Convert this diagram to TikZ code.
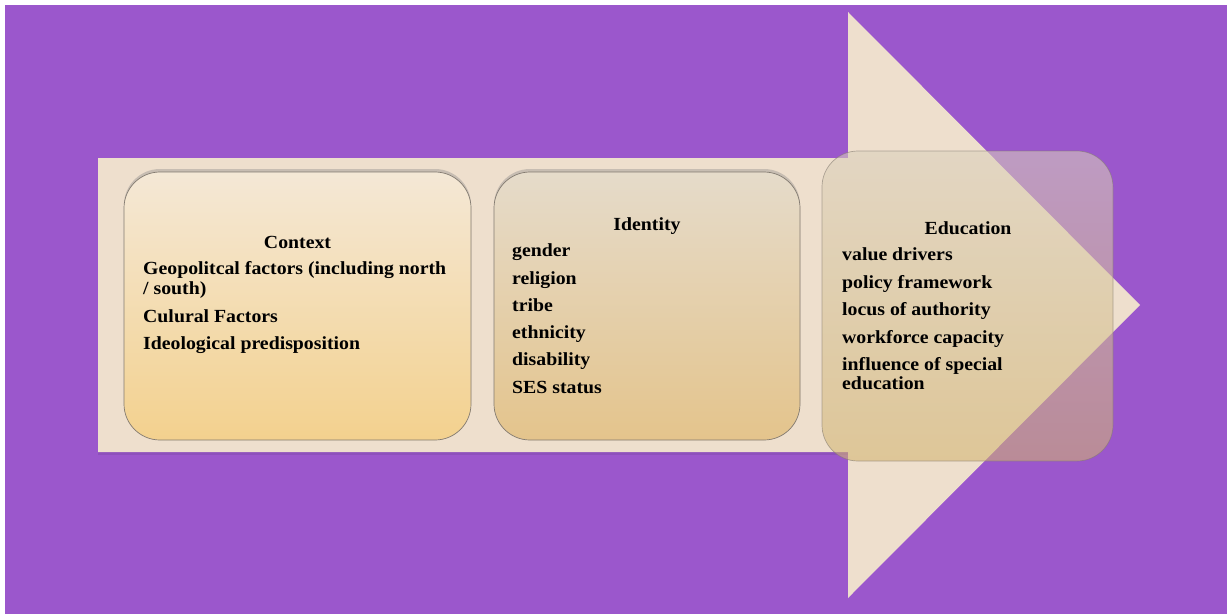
\documentclass[tikz,border=0pt]{standalone}
\usepackage{fontspec}
\setmainfont[BoldFeatures={FakeStretch=1.07}]{Liberation Serif}
\usetikzlibrary{shadows}
\definecolor{bgpurple}{RGB}{155,87,204}
\definecolor{arrowbeige}{RGB}{238,223,205}
\definecolor{aTop}{RGB}{244,232,214}
\definecolor{aBot}{RGB}{243,209,142}
\definecolor{bTop}{RGB}{229,219,202}
\definecolor{bBot}{RGB}{228,196,140}
\definecolor{cTop}{RGB}{218,208,188}
\definecolor{cBot}{RGB}{210,180,112}
\definecolor{edgegray}{RGB}{130,122,112}
\tikzset{
  box/.style={draw=edgegray, line width=0.7pt, rounded corners=36pt, inner sep=0pt},
  shadowed/.style={drop shadow={shadow xshift=0pt, shadow yshift=3pt, opacity=0.35}},
  txt/.style={font=\bfseries\fontsize{18.5}{20}\selectfont, inner sep=0pt, text=black},
  item/.style={txt, anchor=base west},
  head/.style={txt, anchor=base},
}
\begin{document}
\begin{tikzpicture}[x=1pt,y=-1pt]
\useasboundingbox (0,0) rectangle (1227,614);
\fill[white] (0,0) rectangle (1227,614);
\fill[bgpurple] (5,5) rectangle (1227,614);
% arrow
\fill[black, opacity=0.08] (98,452) rectangle (848,455);
\fill[arrowbeige] (98,158) -- (848,158) -- (848,12) -- (1140,305) -- (848,598) -- (848,452) -- (98,452) -- cycle;
% boxes
\node[box, shadowed, top color=aTop, bottom color=aBot, minimum width=347pt, minimum height=268pt] (ctx) at (297.5,306) {};
\node[box, shadowed, top color=bTop, bottom color=bBot, minimum width=306pt, minimum height=268pt] (idn) at (647,306) {};
\node[box, top color=cTop, bottom color=cBot, fill opacity=0.57, draw opacity=0.6, minimum width=291pt, minimum height=310pt] (edu) at (967.5,306) {};
% Context text
\node[head] (ctxh) at (297.5,248) {Context};
\node[item] (c1) at (143,274) {Geopolitcal factors (including north};
\node[item] (c2) at (143,294) {/ south)};
\node[item] (c3) at (143,322) {Culural Factors};
\node[item] (c4) at (143,349) {Ideological predisposition};
% Identity text
\node[head] (idnh) at (647,230) {Identity};
\node[item] (i1) at (512,256) {gender};
\node[item] (i2) at (512,284) {religion};
\node[item] (i3) at (512,311) {tribe};
\node[item] (i4) at (512,338) {ethnicity};
\node[item] (i5) at (512,365) {disability};
\node[item] (i6) at (512,393) {SES status};
% Education text
\node[head] (eduh) at (968,234) {Education};
\node[item] (e1) at (842,260) {value drivers};
\node[item] (e2) at (842,288) {policy framework};
\node[item] (e3) at (842,315) {locus of authority};
\node[item] (e4) at (842,343) {workforce capacity};
\node[item] (e5) at (842,370) {influence of special};
\node[item] (e6) at (842,389) {education};
\end{tikzpicture}
\end{document}
